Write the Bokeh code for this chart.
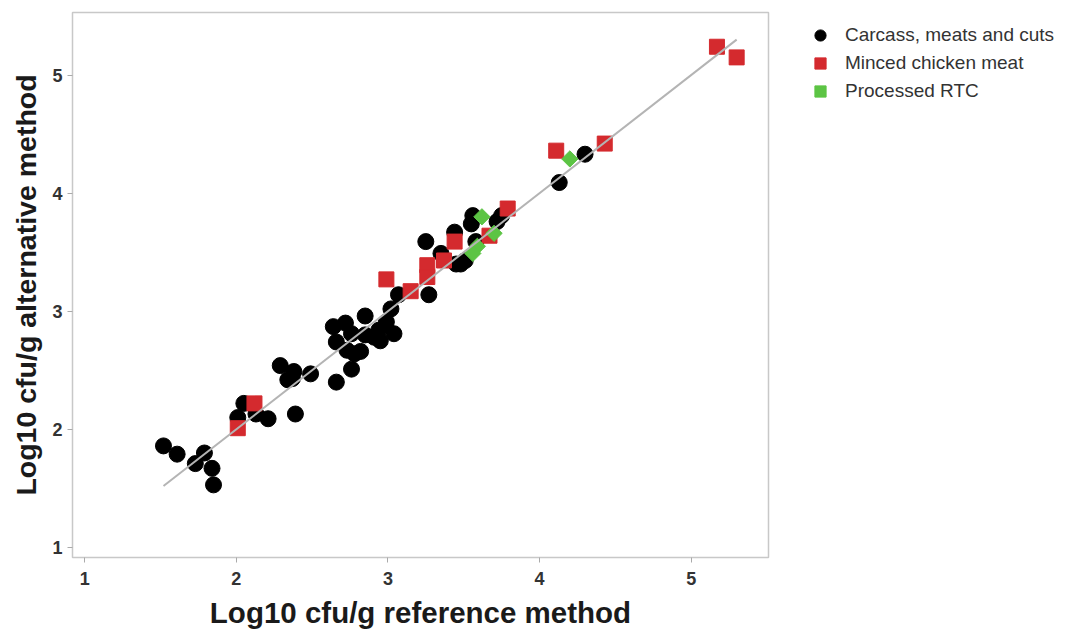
import math
from bokeh.plotting import figure
from bokeh.layouts import row
from bokeh.models import Legend, LegendItem, Range1d, FixedTicker
from bokeh.embed import file_html
from bokeh.resources import INLINE

# Carcass, meats and cuts (reference, alternative)
carcass_x = [1.52, 1.61, 1.73, 1.79, 1.84, 1.85, 2.01, 2.05, 2.13, 2.21, 2.39, 2.29,
             2.34, 2.38, 2.37, 2.49, 2.66, 2.76, 2.64, 2.72, 2.85, 3.02, 2.66, 2.73,
             2.78, 2.82, 2.76, 2.85, 2.91, 2.95, 2.94, 2.99, 3.04, 3.07, 3.27, 3.25,
             3.35, 3.44, 3.45, 3.48, 3.51, 3.55, 3.56, 3.58, 3.72, 3.75, 4.13, 4.30]
carcass_y = [1.86, 1.79, 1.71, 1.80, 1.67, 1.53, 2.10, 2.22, 2.13, 2.09, 2.13, 2.54,
             2.42, 2.49, 2.43, 2.47, 2.40, 2.51, 2.87, 2.90, 2.96, 3.02, 2.74, 2.67,
             2.64, 2.66, 2.81, 2.80, 2.78, 2.75, 2.84, 2.91, 2.81, 3.14, 3.14, 3.59,
             3.49, 3.67, 3.40, 3.40, 3.43, 3.74, 3.81, 3.59, 3.76, 3.81, 4.09, 4.33]

# Minced chicken meat
minced_x = [2.01, 2.12, 2.99, 3.15, 3.26, 3.26, 3.37, 3.44, 3.67, 3.79, 4.11, 4.43, 5.17, 5.30]
minced_y = [2.01, 2.22, 3.27, 3.17, 3.39, 3.29, 3.43, 3.59, 3.64, 3.87, 4.36, 4.42, 5.24, 5.15]

# Processed RTC
rtc_x = [3.62, 3.59, 3.56, 3.70, 4.20]
rtc_y = [3.80, 3.55, 3.49, 3.66, 4.29]

ticks = [1, 2, 3, 4, 5]
labels = ["Carcass, meats and cuts", "Minced chicken meat", "Processed RTC"]

FONT = "Liberation Sans"
BLACK, RED, GREEN = "black", "#d42a2e", "#5cc444"

p = figure(width=770, height=633, output_backend="svg", toolbar_location=None,
           x_range=Range1d(0.92, 5.51), y_range=Range1d(0.915, 5.53),
           min_border_left=72, min_border_right=2, min_border_top=12, min_border_bottom=76)

p.xgrid.visible = False
p.ygrid.visible = False
p.outline_line_color = "#c8c8c8"
p.outline_line_width = 1.5

for ax in (p.xaxis[0], p.yaxis[0]):
    ax.ticker = FixedTicker(ticks=ticks)
    ax.axis_line_color = None
    ax.major_tick_out = 5
    ax.major_tick_in = 0
    ax.minor_tick_line_color = None
    ax.major_tick_line_color = "#aaaaaa"
    ax.major_label_text_font = FONT
    ax.major_label_text_font_size = "18px"
    ax.major_label_text_font_style = "bold"
    ax.major_label_text_color = "#333333"
    ax.axis_label_text_font = FONT
    ax.axis_label_text_font_style = "bold"
    ax.axis_label_text_color = "#1a1a1a"

p.xaxis.axis_label = "Log10 cfu/g reference method"
p.yaxis.axis_label = "Log10 cfu/g alternative method"
p.xaxis.axis_label_text_font_size = "29.5px"
p.yaxis.axis_label_text_font_size = "28.5px"
p.xaxis.major_label_standoff = 9
p.xaxis.axis_label_standoff = 8
p.yaxis.major_label_standoff = 5
p.yaxis.axis_label_standoff = 7
p.yaxis.major_label_orientation = "horizontal"

p.scatter(carcass_x, carcass_y, marker="circle", size=16, fill_color=BLACK, line_color=BLACK)
p.scatter(minced_x, minced_y, marker="square", size=15, fill_color=RED, line_color=RED)
p.scatter(rtc_x, rtc_y, marker="square", size=11.5, angle=math.pi / 4,
          fill_color=GREEN, line_color=GREEN)

all_x = carcass_x + minced_x + rtc_x
lx = [min(all_x), max(all_x)]
p.line(lx, lx, line_color="#b4b4b4", line_width=2)

# Legend panel (separate figure to the right of the plot frame)
lf = figure(width=298, height=633, output_backend="svg", toolbar_location=None,
            x_range=Range1d(0, 1), y_range=Range1d(0, 1),
            x_axis_type=None, y_axis_type=None,
            min_border_left=27, min_border_right=0, min_border_top=12, min_border_bottom=76)
lf.xgrid.visible = False
lf.ygrid.visible = False
lf.outline_line_color = None
nan = float("nan")
g1 = lf.scatter([nan], [nan], marker="circle", fill_color=BLACK, line_color=BLACK)
g2 = lf.scatter([nan], [nan], marker="square", fill_color=RED, line_color=RED)
g3 = lf.scatter([nan], [nan], marker="square", angle=math.pi / 4, fill_color=GREEN, line_color=GREEN)

legend = Legend(items=[LegendItem(label=labels[0], renderers=[g1]),
                       LegendItem(label=labels[1], renderers=[g2]),
                       LegendItem(label=labels[2], renderers=[g3])],
                location="top_left", margin=9, padding=0, spacing=0,
                glyph_width=28, glyph_height=28, label_standoff=11,
                label_text_font=FONT, label_text_font_size="19px", label_text_color="#333333",
                border_line_color=None, background_fill_alpha=0)
lf.add_layout(legend)

layout = row(p, lf)
open("out.html", "w").write(file_html(layout, INLINE))
